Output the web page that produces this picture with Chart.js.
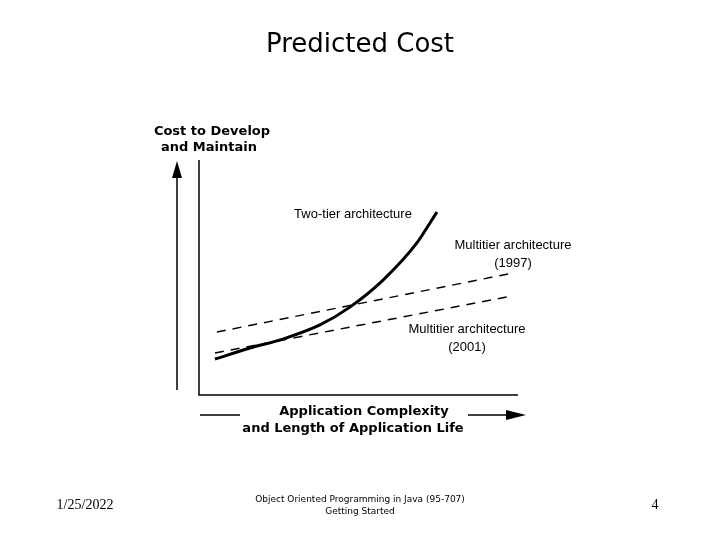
<!DOCTYPE html>
<html>
<head>
<meta charset="utf-8">
<script src="https://cdn.jsdelivr.net/npm/chart.js@4"></script>
<style>
  html, body { margin: 0; padding: 0; background: #fff; }
  #wrap { width: 720px; height: 540px; }
</style>
</head>
<body>
<div id="wrap"><canvas id="cost_chart" width="720" height="540"></canvas></div>
<script>
// values, in 0..100 units of complexity / cost
const twoTierX = [5.0, 16.0, 26.3, 37.9, 47.3, 57.7, 68.3, 72.4, 74.6];
const twoTierY = [15.3, 20.0, 23.8, 29.8, 37.4, 48.9, 64.7, 73.2, 77.9];
const multi1997X = [5.6, 98.4];
const multi1997Y = [26.8, 51.9];
const multi2001X = [5.0, 98.1];
const multi2001Y = [17.9, 42.1];

function toPoints(xs, ys){
    return xs.map((x, i) => ({x: x, y: ys[i]}));
}

// axes, arrows and all the slide text
const slideDecor = {
    id: 'slideDecor',
    afterDraw(chart){
        const ctx = chart.ctx;
        const area = chart.chartArea;
        ctx.save();
        ctx.fillStyle = '#000';
        ctx.strokeStyle = '#000';

        // plot frame (left + bottom)
        ctx.lineWidth = 1.5;
        ctx.beginPath();
        ctx.moveTo(area.left, area.top);
        ctx.lineTo(area.left, area.bottom);
        ctx.lineTo(area.right, area.bottom);
        ctx.stroke();

        // vertical cost arrow
        ctx.beginPath();
        ctx.moveTo(177, 390);
        ctx.lineTo(177, 175);
        ctx.stroke();
        ctx.beginPath();
        ctx.moveTo(177, 161);
        ctx.lineTo(172, 178);
        ctx.lineTo(182, 178);
        ctx.closePath();
        ctx.fill();

        // horizontal complexity arrow
        ctx.beginPath();
        ctx.moveTo(200, 415);
        ctx.lineTo(240, 415);
        ctx.moveTo(468, 415);
        ctx.lineTo(508, 415);
        ctx.stroke();
        ctx.beginPath();
        ctx.moveTo(526, 415);
        ctx.lineTo(506, 410);
        ctx.lineTo(506, 420);
        ctx.closePath();
        ctx.fill();

        ctx.textAlign = 'center';
        ctx.textBaseline = 'middle';

        ctx.font = '26px "DejaVu Sans"';
        ctx.fillText('Predicted Cost', 360, 45);

        ctx.font = 'bold 13px "DejaVu Sans"';
        ctx.fillText('Cost to Develop', 212, 132);
        ctx.fillText('and Maintain', 209, 148);
        ctx.fillText('Application Complexity', 364, 412);
        ctx.fillText('and Length of Application Life', 353, 429);

        ctx.font = '13px "Liberation Sans"';
        ctx.fillText('Two-tier architecture', 353, 214);
        ctx.fillText('Multitier architecture', 513, 245);
        ctx.fillText('(1997)', 513, 263);
        ctx.fillText('Multitier architecture', 467, 329);
        ctx.fillText('(2001)', 467, 347);

        // footer
        ctx.font = '14px "Liberation Serif"';
        ctx.fillText('1/25/2022', 85, 505);
        ctx.fillText('4', 655, 505);
        ctx.font = '9px "DejaVu Sans"';
        ctx.fillText('Object Oriented Programming in Java (95-707)', 360, 500);
        ctx.fillText('Getting Started', 360, 512);
        ctx.restore();
    }
};

var ctx = document.getElementById('cost_chart').getContext('2d');

var cost_chart = new Chart(ctx, {
    type: 'scatter',
    data: {
        datasets: [{
            label: 'Two-tier architecture',
            data: toPoints(twoTierX, twoTierY),
            showLine: true,
            borderColor: '#000',
            borderWidth: 3,
            cubicInterpolationMode: 'monotone',
            pointRadius: 0
        }, {
            label: 'Multitier architecture (1997)',
            data: toPoints(multi1997X, multi1997Y),
            showLine: true,
            borderColor: '#000',
            borderWidth: 1.5,
            borderDash: [9, 7],
            pointRadius: 0
        }, {
            label: 'Multitier architecture (2001)',
            data: toPoints(multi2001X, multi2001Y),
            showLine: true,
            borderColor: '#000',
            borderWidth: 1.5,
            borderDash: [9, 7],
            pointRadius: 0
        }]
    },
    options: {
        responsive: false,
        animation: false,
        layout: { padding: { left: 199, right: 202, top: 160, bottom: 145 } },
        plugins: { legend: { display: false }, tooltip: { enabled: false } },
        scales: {
            x: { type: 'linear', min: 0, max: 100, display: false },
            y: { type: 'linear', min: 0, max: 100, display: false }
        }
    },
    plugins: [slideDecor]
});
</script>
</body>
</html>
